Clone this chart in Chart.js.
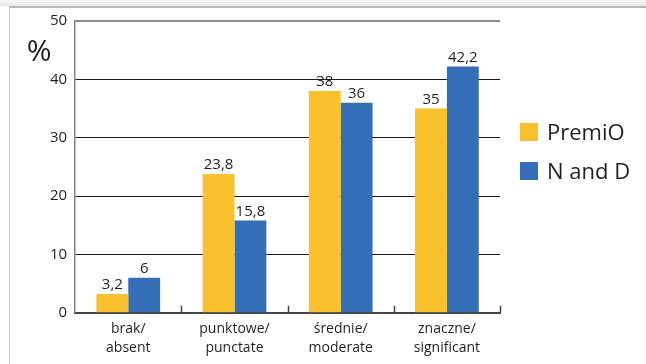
<!DOCTYPE html>
<html>
<head>
<meta charset="utf-8">
<script src="https://cdn.jsdelivr.net/npm/chart.js@4.4.1/dist/chart.umd.min.js"></script>
<style>
  html, body { margin: 0; padding: 0; background: #fff; }
  #wrap { position: relative; width: 646px; height: 364px; overflow: hidden; }
  #topband { position: absolute; left: 0; top: 0; width: 646px; height: 6px; background: linear-gradient(#f8f8f8, #e8e8e8); }
  #frame { position: absolute; left: 9px; top: 6px; width: 700px; height: 400px; border-left: 1px solid #c8c8c8; border-top: 2px solid #b8b8b8; }
  canvas { position: absolute; left: 0; top: 0; }
</style>
</head>
<body>
<div id="wrap">
  <div id="topband"></div>
  <div id="frame"></div>
  <canvas id="chart" width="646" height="364"></canvas>
</div>
<script>
// Categories (two-line labels) and series values, in percent
const categories = [['brak/', 'absent'], ['punktowe/', 'punctate'], ['średnie/', 'moderate'], ['znaczne/', 'significant']];
const premioValues = [3.2, 23.8, 38, 35];
const ndValues = [6, 15.8, 36, 42.2];
const seriesNames = ['PremiO', 'N and D'];
const yMin = 0;
const yMax = 50;
const yStep = 10;
const unitLabel = '%';

const FONT = '"Open Sans", "Noto Sans", sans-serif';
const TEXT = '#231f20';

const fmt = v => String(v).replace('.', ',');

// Value labels above each bar
const valueLabels = {
  id: 'valueLabels',
  afterDatasetsDraw(chart) {
    const ctx = chart.ctx;
    ctx.save();
    ctx.font = '15px ' + FONT;
    ctx.fillStyle = TEXT;
    ctx.textAlign = 'center';
    ctx.textBaseline = 'alphabetic';
    chart.data.datasets.forEach((ds, di) => {
      chart.getDatasetMeta(di).data.forEach((bar, i) => {
        ctx.fillText(fmt(ds.data[i]), bar.x, bar.y - 5);
      });
    });
    ctx.restore();
  }
};

// Small upward ticks on the category axis between groups
const groupTicks = {
  id: 'groupTicks',
  afterDraw(chart) {
    const x = chart.scales.x, y = chart.scales.y, ctx = chart.ctx;
    const n = chart.data.labels.length;
    const step = (x.right - x.left) / n;
    const base = y.getPixelForValue(0);
    ctx.save();
    ctx.strokeStyle = '#454545';
    ctx.lineWidth = 1.5;
    ctx.beginPath();
    for (let i = 1; i <= n; i++) {
      const px = Math.round(x.left + step * i) + 0.5;
      ctx.moveTo(px, base);
      ctx.lineTo(px, base - 7);
    }
    ctx.stroke();
    ctx.restore();
  }
};

// Unit sign beside the value axis
const unitSign = {
  id: 'unitSign',
  afterDraw(chart) {
    const a = chart.chartArea, ctx = chart.ctx;
    ctx.save();
    ctx.font = '30px ' + FONT;
    ctx.fillStyle = TEXT;
    ctx.textAlign = 'center';
    ctx.textBaseline = 'alphabetic';
    ctx.fillText(unitLabel, a.left - 36, a.top + 40);
    ctx.restore();
  }
};

// Legend on the right, built from the datasets
const sideLegend = {
  id: 'sideLegend',
  afterDraw(chart) {
    const a = chart.chartArea, ctx = chart.ctx;
    const x0 = a.right + 20;
    const y0 = a.top + 102;
    const gap = 39;
    const box = 18;
    ctx.save();
    ctx.font = '22px ' + FONT;
    ctx.textAlign = 'left';
    ctx.textBaseline = 'alphabetic';
    chart.data.datasets.forEach((ds, i) => {
      const y = y0 + gap * i;
      ctx.fillStyle = ds.backgroundColor;
      ctx.fillRect(x0, y, box, box);
      ctx.fillStyle = TEXT;
      ctx.fillText(ds.label, x0 + 27, y + box - 1);
    });
    ctx.restore();
  }
};

new Chart(document.getElementById('chart'), {
  type: 'bar',
  data: {
    labels: categories,
    datasets: [
      { label: seriesNames[0], data: premioValues, backgroundColor: '#fbc12d', categoryPercentage: 0.6, barPercentage: 1.0 },
      { label: seriesNames[1], data: ndValues, backgroundColor: '#336eb6', categoryPercentage: 0.6, barPercentage: 1.0 }
    ]
  },
  options: {
    responsive: false,
    devicePixelRatio: 1,
    animation: false,
    layout: { padding: { left: 42, right: 146, top: 21, bottom: 0 } },
    plugins: { legend: { display: false }, tooltip: { enabled: false } },
    scales: {
      x: {
        offset: true,
        grid: { display: false, drawTicks: false },
        border: { display: true, color: '#454545', width: 2 },
        ticks: { padding: 6, color: TEXT, font: { family: FONT, size: 14, lineHeight: 1.4 }, maxRotation: 0, autoSkip: false }
      },
      y: {
        min: yMin,
        max: yMax,
        ticks: { stepSize: yStep, padding: 8, color: TEXT, font: { family: FONT, size: 15 } },
        border: { display: true, color: '#808080', width: 1.5 },
        grid: {
          drawTicks: false,
          color: c => c.tick.value === yMax ? '#8c8c8c' : (c.tick.value === yMin ? 'rgba(0,0,0,0)' : '#1a1a1a'),
          lineWidth: c => c.tick.value === yMax ? 2 : 1
        }
      }
    }
  },
  plugins: [valueLabels, groupTicks, unitSign, sideLegend]
});
</script>
</body>
</html>
